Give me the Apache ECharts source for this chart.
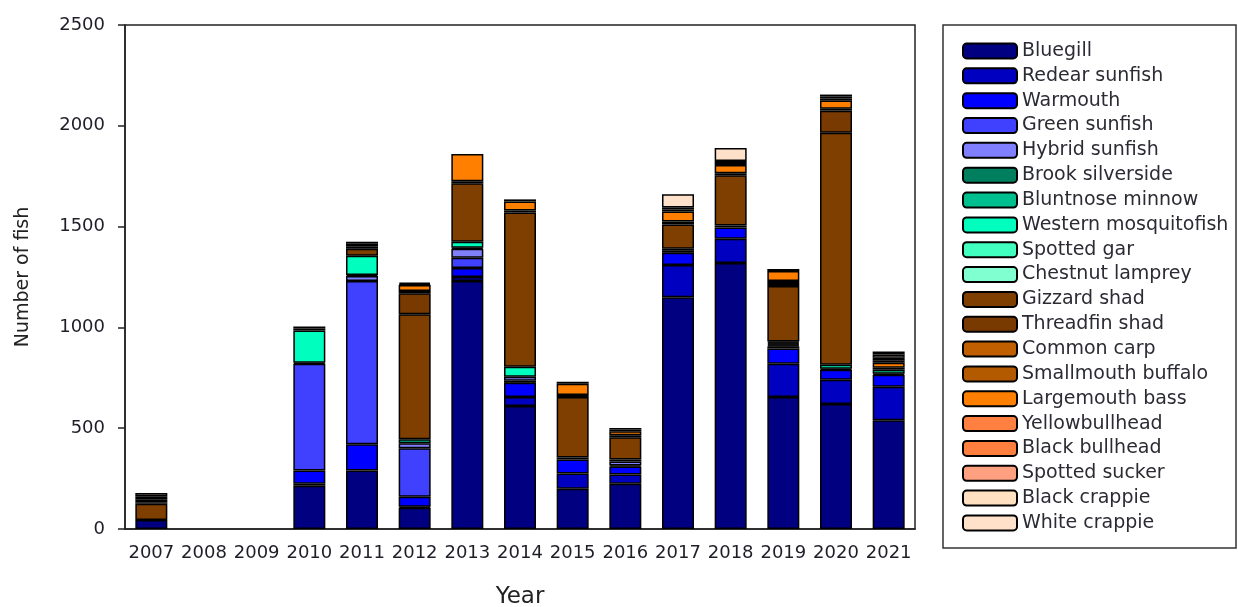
<!DOCTYPE html>
<html>
<head>
<meta charset="utf-8">
<script src="https://cdn.jsdelivr.net/npm/echarts@6/dist/echarts.min.js"></script>
<style>html,body{margin:0;padding:0;background:#fff}#c{width:1238px;height:607px}</style>
</head>
<body>
<div id="c"></div>
<script>
var years = ['2007','2008','2009','2010','2011','2012','2013','2014','2015','2016','2017','2018','2019','2020','2021'];
var yTicks = [0, 500, 1000, 1500, 2000, 2500];

var bluegill        = [45,0,0,215,290,105,1230,610,200,225,1150,1320,655,620,540];
var redearSunfish   = [0,0,0,10,0,5,20,45,75,45,160,120,165,120,165];
var warmouth        = [0,0,0,65,130,50,45,70,70,40,60,55,75,50,60];
var greenSunfish    = [0,0,0,530,810,240,50,10,10,5,10,10,10,5,5];
var hybridSunfish   = [0,0,0,5,25,25,45,20,0,20,10,0,5,0,0];
var brookSilverside = [0,0,0,0,0,0,5,0,0,10,0,0,5,0,0];
var bluntnoseMinnow = [0,0,0,0,5,20,0,0,0,0,0,0,5,0,20];
var westernMosquito = [0,0,0,160,95,0,30,50,0,0,0,0,5,20,0];
var spottedGar      = [0,0,0,0,0,0,0,0,0,0,0,0,5,0,0];
var chestnutLamprey = [0,0,0,0,0,0,0,0,0,0,0,0,0,0,0];
var gizzardShad     = [80,0,0,10,35,620,290,765,300,110,120,250,275,1150,10];
var threadfinShad   = [8,0,0,10,10,105,10,10,10,10,15,10,15,110,0];
var commonCarp      = [0,0,0,0,15,10,0,0,0,0,0,0,10,10,0];
var smallmouthBuff  = [0,0,0,0,0,0,0,0,0,0,0,0,0,0,0];
var largemouthBass  = [15,0,0,0,10,30,135,45,55,20,50,40,50,40,25];
var yellowBullhead  = [0,0,0,0,0,0,0,10,10,8,10,10,10,10,10];
var blackBullhead   = [0,0,0,0,0,0,0,0,0,8,10,10,0,0,0];
var spottedSucker   = [0,0,0,0,0,0,0,0,0,0,0,0,0,0,15];
var blackCrappie    = [15,0,0,0,0,5,0,0,0,0,0,0,0,10,15];
var whiteCrappie    = [15,0,0,0,0,7,0,0,0,0,65,65,0,10,15];

var speciesNames = ['Bluegill','Redear sunfish','Warmouth','Green sunfish','Hybrid sunfish','Brook silverside','Bluntnose minnow','Western mosquitofish','Spotted gar','Chestnut lamprey','Gizzard shad','Threadfin shad','Common carp','Smallmouth buffalo','Largemouth bass','Yellowbullhead','Black bullhead','Spotted sucker','Black crappie','White crappie'];
var speciesData = [bluegill,redearSunfish,warmouth,greenSunfish,hybridSunfish,brookSilverside,bluntnoseMinnow,westernMosquito,spottedGar,chestnutLamprey,gizzardShad,threadfinShad,commonCarp,smallmouthBuff,largemouthBass,yellowBullhead,blackBullhead,spottedSucker,blackCrappie,whiteCrappie];
var speciesColors = ['#000080','#0000C0','#0000FF','#4040FF','#8080FF','#007F5F','#00BF8F','#00FFBF','#40FFBF','#80FFD0','#7F3F00','#783A00','#BF5F00','#B35900','#FF8000','#FF8040','#FF7F3F','#FFA080','#FFE0C0','#FFE0C8'];

var font = 'DejaVu Sans, Verdana, sans-serif';
var series = speciesNames.map(function (n, i) {
  return {
    name: n, type: 'bar', stack: 'all', barWidth: 32,
    itemStyle: { color: speciesColors[i], borderColor: '#000', borderWidth: 1.5 },
    data: speciesData[i].map(function (v) { return v === 0 ? null : v; })
  };
});

var chart = echarts.init(document.getElementById('c'), null, { renderer: 'canvas' });
chart.setOption({
  animation: false,
  backgroundColor: '#fff',
  grid: { left: 125, right: 323, top: 25, bottom: 78, outerBoundsMode: 'none', containLabel: false,
          show: true, borderColor: '#222', borderWidth: 1.5, backgroundColor: 'transparent' },
  graphic: [{ type: 'rect', shape: { x: 943, y: 25, width: 293, height: 523 }, style: { fill: 'none', stroke: '#333', lineWidth: 1.5 }, z: 100 }],
  legend: {
    orient: 'vertical', left: 957, top: 36.5, icon: 'roundRect',
    itemWidth: 54, itemHeight: 15, itemGap: 5.84,
    textStyle: { fontFamily: font, fontSize: 19, color: '#2b2b33', lineHeight: 19 },
    data: speciesNames
  },
  xAxis: {
    type: 'category', data: years, boundaryGap: true,
    name: 'Year', nameLocation: 'middle', nameGap: 57,
    nameTextStyle: { fontFamily: font, fontSize: 23, color: '#222' },
    axisLine: { lineStyle: { color: '#222', width: 1.5 } },
    axisTick: { alignWithLabel: true, length: 7, lineStyle: { color: '#222', width: 1.5 } },
    axisLabel: { fontFamily: font, fontSize: 18, color: '#1e1e28', margin: 15, interval: 0 }
  },
  yAxis: {
    type: 'value', min: yTicks[0], max: yTicks[yTicks.length - 1], interval: 500,
    name: 'Number of fish', nameLocation: 'middle', nameGap: 92,
    nameTextStyle: { fontFamily: font, fontSize: 19, color: '#222' },
    splitLine: { show: false },
    axisLine: { show: true, lineStyle: { color: '#222', width: 1.5 } },
    axisTick: { show: true, length: 7, lineStyle: { color: '#222', width: 1.5 } },
    axisLabel: { fontFamily: font, fontSize: 18, color: '#1e1e28', margin: 20, formatter: function (v) { return String(v); } }
  },
  series: series
});
</script>
</body>
</html>
